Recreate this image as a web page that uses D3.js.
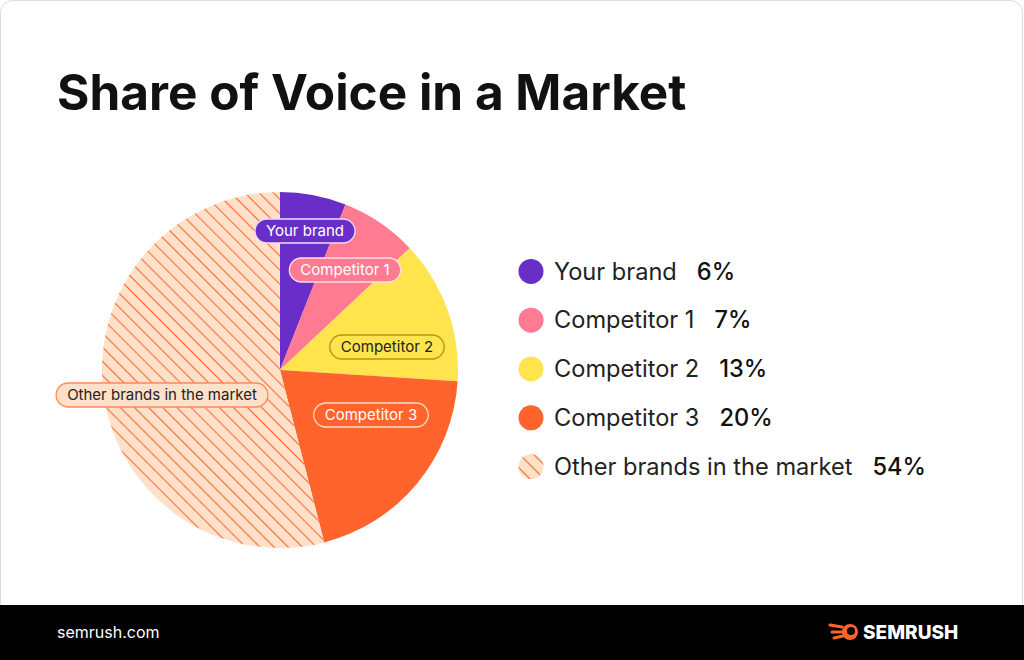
<!DOCTYPE html>
<html><head><meta charset="utf-8">
<script src="https://cdn.jsdelivr.net/npm/d3@7"></script>
<style>body{margin:0;background:#fff;font-family:Inter,"Noto Sans",sans-serif}</style>
</head><body>
<svg id="chart" width="1024" height="660"></svg>
<script>
const categories = ["Your brand", "Competitor 1", "Competitor 2", "Competitor 3", "Other brands in the market"];
const shares = [6, 7, 13, 20, 54];
const colors = ["#6a2ec8", "#ff7b91", "#ffe44d", "#ff642d", "url(#hatch)"];
const labelText = ["#fff", "#fff", "#222", "#fff", "#222"];
const labelBorder = ["#e8dcff", "#ffe0e6", "#b8901a", "#ffd9c8", "#ff8a55"];
// pill label centers
const labelPos = [[305, 231], [345, 270], [387, 347], [371, 415], [162, 395]];

const svg = d3.select("#chart");
const defs = svg.append("defs");
const pat = defs.append("pattern").attr("id", "hatch").attr("patternUnits", "userSpaceOnUse")
  .attr("width", 10).attr("height", 10).attr("patternTransform", "rotate(-45)");
pat.append("rect").attr("width", 10).attr("height", 10).attr("fill", "#ffe0c8");
pat.append("line").attr("x1", 0).attr("y1", 0).attr("x2", 0).attr("y2", 10)
  .attr("stroke", "#ff6a33").attr("stroke-width", 2.2);

// card + footer
svg.append("rect").attr("x", 0.5).attr("y", 0.5).attr("width", 1022).attr("height", 640)
  .attr("rx", 12).attr("fill", "#fff").attr("stroke", "#ddd");
svg.append("rect").attr("x", 0).attr("y", 605).attr("width", 1024).attr("height", 55).attr("fill", "#000");
svg.append("text").attr("x", 57).attr("y", 638).attr("fill", "#fff").attr("font-size", 16).text("semrush.com");

// logo
const logo = svg.append("g").attr("transform", "translate(830,632)");
logo.append("path").attr("d", "M0,-7 L12,-5 M2,0 L12,0 M4,6 L13,4").attr("stroke", "#ff642d").attr("stroke-width", 3).attr("stroke-linecap", "round");
logo.append("circle").attr("cx", 20).attr("cy", 0).attr("r", 8).attr("fill", "#ff642d");
logo.append("circle").attr("cx", 21).attr("cy", -1).attr("r", 4).attr("fill", "#000");
logo.append("text").attr("x", 33).attr("y", 7).attr("fill", "#fff").attr("font-size", 19)
  .attr("font-weight", 800).attr("font-family", "Inter, sans-serif").text("SEMRUSH");

svg.append("text").attr("x", 57).attr("y", 110).attr("font-size", 49.5).attr("font-weight", 700)
  .attr("fill", "#111").text("Share of Voice in a Market");

// pie
const cx = 280, cy = 370, R = 178;
const pie = d3.pie().sort(null).value(d => d)(shares);
const arc = d3.arc().innerRadius(0).outerRadius(R);
const g = svg.append("g").attr("transform", `translate(${cx},${cy})`);
g.selectAll("path").data(pie).join("path").attr("d", arc).attr("fill", (d, i) => colors[i]);

// pill labels
const pills = svg.append("g").selectAll("g").data(categories).join("g")
  .attr("transform", (d, i) => `translate(${labelPos[i][0]},${labelPos[i][1]})`);
pills.each(function (d, i) {
  const p = d3.select(this);
  const t = p.append("text").attr("text-anchor", "middle").attr("dy", "0.35em")
    .attr("font-size", 15).attr("fill", labelText[i]).text(d);
  const w = t.node().getComputedTextLength() + 22;
  p.insert("rect", "text").attr("x", -w / 2).attr("y", -12).attr("width", w).attr("height", 24)
    .attr("rx", 12).attr("fill", i === 4 ? "#ffe0c8" : colors[i]).attr("stroke", labelBorder[i]).attr("stroke-width", 1.3);
});

// legend
const y = d3.scaleBand().domain(categories).range([247, 491]);
const leg = svg.append("g").selectAll("g").data(categories).join("g")
  .attr("transform", d => `translate(531,${y(d) + y.bandwidth() / 2})`);
leg.append("circle").attr("r", 12.5).attr("fill", (d, i) => colors[i]);
leg.each(function (d, i) {
  const l = d3.select(this);
  const t = l.append("text").attr("x", 23).attr("dy", "0.35em").attr("font-size", 23.6).attr("fill", "#222").text(d);
  const w = t.node().getComputedTextLength();
  l.append("text").attr("x", 23 + w + 20).attr("dy", "0.35em").attr("font-size", 23.6)
    .attr("font-weight", 500).attr("fill", "#111").text(shares[i] + "%");
});
</script>
</body></html>
